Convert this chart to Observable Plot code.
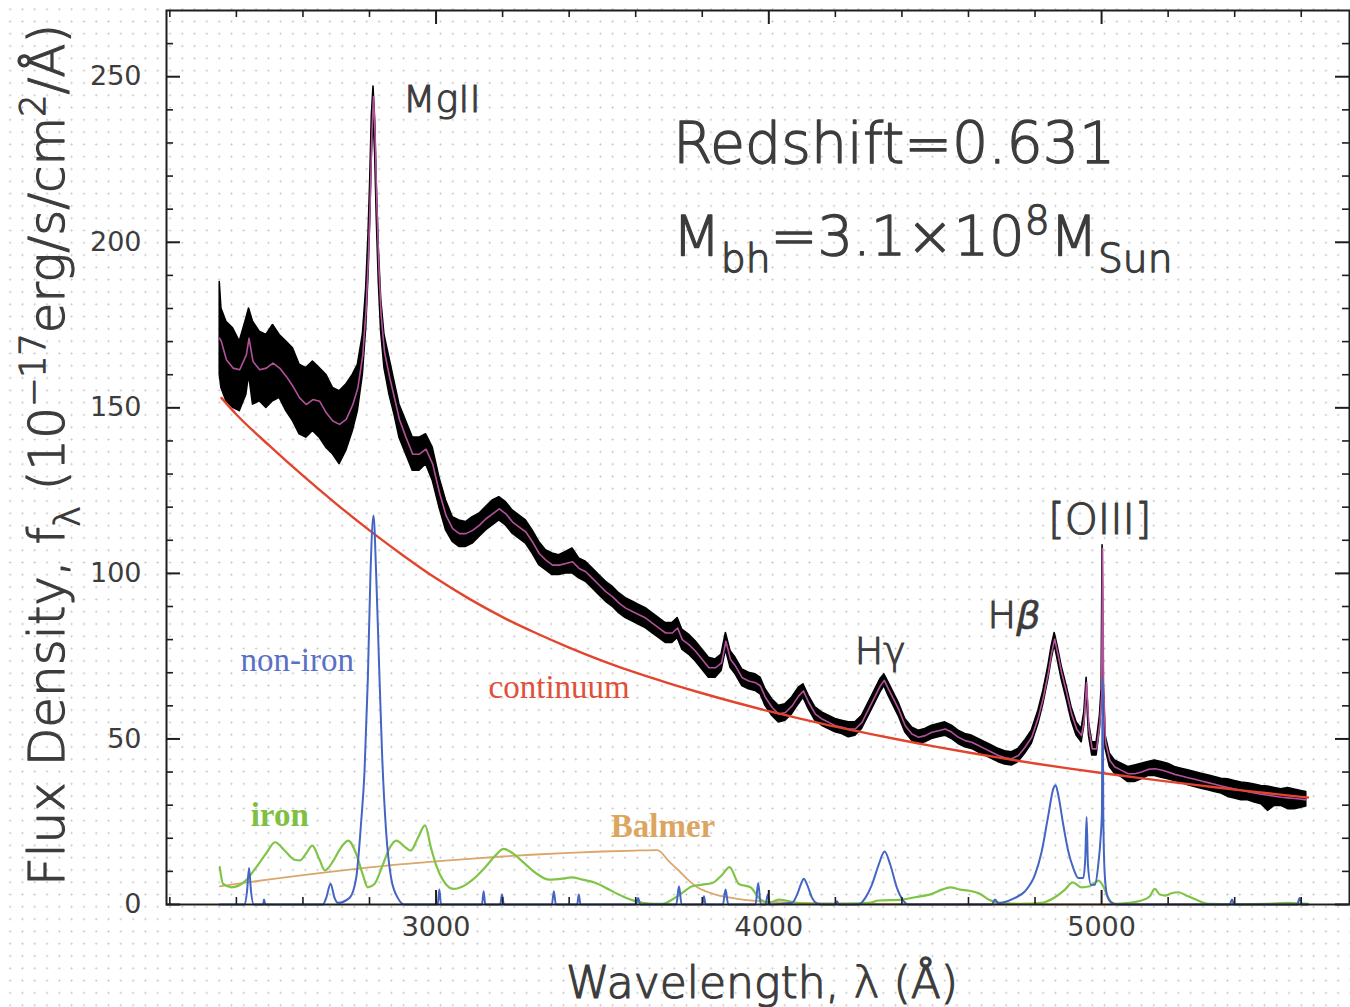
<!DOCTYPE html>
<html>
<head>
<meta charset="utf-8">
<script src="https://cdn.jsdelivr.net/npm/d3@7"></script>
<script src="https://cdn.jsdelivr.net/npm/@observablehq/plot@0.6"></script>
<style>
  html, body { margin: 0; padding: 0; }
  body {
    width: 1350px; height: 1007px; overflow: hidden;
    background-color: #fff;
    background-image: radial-gradient(circle, #c6c6c6 0 0.8px, transparent 1.2px);
    background-size: 12.3px 12.3px;
    background-position: 4px 3px;
  }
  #chart svg { display: block; }
</style>
</head>
<body>
<div id="chart"></div>
<script>
// ---- Quasar spectrum decomposition (rest-frame wavelength in Å, flux in 1e-17 erg/s/cm²/Å) ----

// Observed spectrum: wavelength grid, fitted total model, and the lower/upper edge of the noisy data
const wavelength = [
  2350, 2355, 2370, 2390, 2410, 2430, 2438, 2450, 2470, 2490,
  2510, 2530, 2550, 2570, 2590, 2610, 2630, 2650, 2670, 2690,
  2710, 2730, 2750, 2765, 2780, 2790, 2797, 2802, 2807, 2812,
  2817, 2822, 2828, 2835, 2845, 2860, 2875, 2890, 2910, 2930,
  2950, 2970, 2990, 3010, 3030, 3050, 3070, 3090, 3110, 3130,
  3150, 3170, 3190, 3210, 3230, 3250, 3270, 3290, 3310, 3330,
  3350, 3370, 3390, 3410, 3430, 3450, 3470, 3490, 3510, 3530,
  3550, 3570, 3590, 3610, 3630, 3650, 3670, 3690, 3710, 3726,
  3740, 3760, 3780, 3800, 3820, 3840, 3858, 3871, 3885, 3900,
  3920, 3940, 3960, 3975, 3990, 4010, 4030, 4050, 4070, 4090,
  4104, 4120, 4140, 4160, 4180, 4200, 4220, 4240, 4260, 4280,
  4300, 4320, 4335, 4347, 4360, 4375, 4390, 4410, 4430, 4450,
  4470, 4490, 4510, 4530, 4550, 4570, 4590, 4610, 4630, 4650,
  4670, 4690, 4710, 4730, 4750, 4770, 4790, 4810, 4825, 4840,
  4850, 4859, 4868, 4880, 4895, 4910, 4925, 4940, 4948, 4955,
  4962, 4972, 4985, 4995, 5000, 5003, 5006, 5012, 5025, 5040,
  5060, 5080, 5100, 5120, 5140, 5160, 5180, 5200, 5220, 5240,
  5260, 5280, 5300, 5320, 5340, 5360, 5380, 5400, 5420, 5440,
  5460, 5480, 5500, 5520, 5540, 5560, 5580, 5600, 5615
];

const modelFlux = [
  171, 170, 164.5, 162, 161.5, 166, 171, 164, 161.5, 162,
  163.5, 162, 159.5, 156.5, 153, 151, 152.5, 152, 148.5, 146,
  145, 146.5, 151, 156, 166, 180, 196, 212, 232, 244,
  232, 212, 193, 178, 167, 159.5, 153, 146.5, 141, 136,
  136, 137.5, 133, 124.5, 117.5, 113.5, 112, 112, 113, 114.5,
  116.5, 118, 119.5, 118, 115.5, 114, 112.5, 109.5, 106, 104,
  102.5, 102.5, 103, 103.5, 101.5, 100.5, 98.5, 96.5, 94.5, 93,
  91, 89.5, 88.5, 87.5, 86.5, 85, 83.5, 82, 82, 83.5,
  80, 78.5, 76.5, 74, 71.5, 71.5, 73, 79.5, 74, 72,
  68.5, 67.5, 67, 66, 62.5, 59.5, 57.5, 58, 60, 63,
  64.5, 61, 57.5, 56, 55, 54, 53.5, 53, 53, 55,
  59, 63, 66, 67.7, 65, 62, 59, 54, 51.5, 50.5,
  51, 52, 52.5, 53, 52, 50.5, 49.5, 49, 48, 47,
  46, 45, 44.3, 44, 45, 47.5, 50.5, 56.5, 62.5, 70,
  76, 80.2, 76, 70, 64, 57.5, 53, 51, 56, 67,
  53, 47, 47, 55, 63, 107.5, 66, 49, 43.5, 41.5,
  40.5, 39.5, 39.5, 40, 40.8, 41, 40.6, 40, 39.3, 38.8,
  38.3, 37.8, 37.3, 36.8, 36.3, 35.8, 35.3, 34.9, 34.5, 34.1,
  33.7, 33.3, 33, 32.7, 32.4, 32.2, 32, 31.8, 31.6
];

const fluxHigh = [
  188, 180, 176, 174, 170, 177, 180, 176, 173, 172,
  175, 172, 170, 168, 163, 162, 164, 162, 160, 156,
  155, 157, 160, 163, 172, 186, 202, 218, 238, 247,
  237, 217, 198, 183, 172, 165, 158, 151, 146, 141,
  141, 142, 138, 129, 122, 117, 116, 115.5, 117, 118,
  120, 122, 123, 121.5, 119, 117.5, 116, 113, 109.5, 107,
  106, 105.5, 106.5, 107.5, 104.5, 103.5, 101.5, 99.5, 97.5, 96,
  94, 92.5, 91.5, 90.5, 89.5, 88, 86.5, 85, 85, 86.5,
  83, 81.5, 79.5, 77, 74.5, 74, 75.5, 82, 76.5, 74.5,
  71, 70, 69.5, 68.5, 65, 62, 60, 60.5, 62.5, 65.5,
  66.5, 63, 59.5, 58, 57, 56, 55.5, 55, 55, 57,
  61, 65, 68, 69.5, 67, 64, 61, 56, 53.5, 52.5,
  53, 54, 54.5, 55, 54, 52.5, 51.5, 51, 50, 49,
  48, 47, 46.3, 46, 47, 49.5, 52.5, 58.5, 64.5, 72,
  78, 82, 78, 72, 66, 59.5, 55, 53, 58, 68.5,
  55, 49, 49, 57, 65, 108.5, 68, 51, 45.5, 43.5,
  42.5, 41.5, 42, 42.5, 43, 43.5, 43, 42.5, 41.5, 41,
  40.5, 40, 39.5, 39, 38.5, 38, 37.8, 37.3, 36.8, 36.6,
  36.2, 35.8, 35.6, 35.2, 34.8, 35.2, 34.7, 34.3, 34
];

const fluxLow = [
  160, 156, 152, 150, 149, 154, 160, 151, 152, 150,
  152, 153, 149, 146, 142, 141, 143, 141, 138, 136,
  133, 137, 143, 149, 160, 174, 190, 206, 226, 238,
  227, 207, 188, 173, 162, 154, 148, 141, 136, 131,
  131, 133, 128, 120, 113, 109.5, 108, 108, 109, 111,
  113, 114.5, 116, 114.5, 112, 110.5, 109, 106, 102.5, 101,
  99.5, 99.5, 100, 100, 98.5, 97.5, 95.5, 93.5, 91.5, 90,
  88, 86.5, 85.5, 84.5, 83.5, 82, 80.5, 79, 79, 80.5,
  77, 75.5, 73.5, 71, 68.5, 68.5, 70.5, 77, 71.5, 69.5,
  66, 65, 64.5, 63.5, 60, 57, 55, 55.5, 57.5, 60.5,
  62.5, 59, 55.5, 54, 53, 52, 51.5, 50.5, 51, 53,
  57, 61, 64, 66, 63, 60, 57, 52, 49.5, 48.5,
  49, 50, 50.5, 51, 50, 48.5, 47.5, 47, 46, 45,
  44, 43, 42.3, 42, 43, 45.5, 48.5, 54.5, 60.5, 68,
  74, 78.5, 74, 68, 62, 55.5, 51, 49, 54, 65.5,
  51, 45, 45, 53, 61, 106, 64, 47, 41.5, 39.5,
  38.5, 37, 37, 37.8, 38.8, 38.8, 38.3, 37.8, 37.3, 36.8,
  36, 35.5, 35, 34.5, 34, 33.5, 32.5, 32, 31.5, 31.5,
  30.8, 30.3, 28.3, 29.8, 29.8, 28.8, 28.8, 29.2, 29.6
];

// Power-law continuum
const continuumWave = [2355, 2400, 2500, 2600, 2700, 2800, 2900, 3000, 3100, 3200, 3300, 3400,
  3500, 3600, 3700, 3800, 3900, 4000, 4100, 4200, 4300, 4400, 4500, 4600, 4700, 4800,
  4900, 5000, 5100, 5200, 5300, 5400, 5500, 5600, 5620];
const continuumFlux = [153, 148, 138.5, 129.5, 121, 113, 105.5, 98.5, 92.3, 86.8, 82, 77.6,
  73.6, 70, 66.8, 63.8, 61, 58.4, 56, 53.7, 51.6, 49.6, 47.7, 45.9, 44.2, 42.6,
  41.1, 39.7, 38.4, 37.1, 35.9, 34.7, 33.6, 32.5, 32.3];

// Fe II / Fe III pseudo-continuum
const ironWave = [2350, 2360, 2385, 2428, 2460, 2490, 2516, 2545, 2575, 2591,
  2610, 2628, 2650, 2666, 2690, 2710, 2736, 2760, 2780, 2795,
  2815, 2840, 2860, 2881, 2905, 2924, 2945, 2967, 2985, 3000,
  3020, 3053, 3090, 3110, 3150, 3180, 3203, 3230, 3265, 3300,
  3340, 3380, 3407, 3440, 3480, 3520, 3560, 3600, 3640, 3680,
  3710, 3740, 3770, 3800, 3830, 3860, 3882, 3910, 3945, 3970,
  4000, 4030, 4100, 4200, 4300, 4330, 4400, 4440, 4490, 4520,
  4545, 4575, 4600, 4635, 4660, 4700, 4760, 4820, 4860, 4890,
  4913, 4940, 4965, 4991, 5005, 5020, 5040, 5080, 5120, 5145,
  5160, 5175, 5193, 5210, 5230, 5260, 5290, 5320, 5400, 5500,
  5560, 5600, 5620];
const ironFlux = [11.3, 6.2, 5.2, 7.2, 11.3, 15.5, 18.8, 16.3, 13.5, 13.3,
  15.5, 17.8, 13.5, 10.3, 13, 16.5, 19.3, 15.3, 9, 5.2,
  6.2, 12, 17, 19.3, 17.5, 16.3, 20, 23.9, 17, 12,
  7.5, 4.7, 6, 7.5, 11.5, 15, 16.8, 15.5, 12.5, 9.5,
  7.5, 7.8, 8.2, 7.5, 6.5, 4.5, 2.5, 1, 0.3, 0.2,
  1.5, 3.5, 5.5, 6, 6.5, 9, 11.3, 6.2, 5.2, 2,
  0.5, 1.5, 0.3, 0.2, 0.5, 1.2, 1.5, 2.2, 3.2, 4.5,
  5.2, 4.5, 4.2, 3.2, 1.5, 0.5, 0.2, 0.5, 2.2, 4.5,
  6.7, 5.2, 5.5, 7.2, 5.5, 2, 0.2, 0.5, 1.2, 2.5,
  4.7, 3, 2.7, 3.4, 3.7, 2.5, 1.2, 0.2, 0.1, 0.2,
  0.5, 0.3, 0.2];

// Balmer continuum + high-order Balmer lines
const balmerWave = [2350, 2400, 2500, 2600, 2700, 2800, 2900, 3000, 3100, 3200, 3300, 3400,
  3500, 3600, 3665, 3700, 3730, 3760, 3785, 3810, 3840, 3900, 3960, 4050, 4200, 4500, 5000, 5620];
const balmerFlux = [5.5, 6.2, 7.6, 8.9, 10.1, 11.2, 12.2, 13, 13.8, 14.5, 15.1, 15.6,
  16, 16.3, 16.4, 13, 10.2, 7.2, 5.2, 4, 3, 1.8, 1.1, 0.6, 0.3, 0.1, 0.05, 0];

// Non-iron emission lines (Mg II, [Ne V], [O II], [Ne III], Balmer lines, [O III], ...)
const nonIronWave = [2350, 2425, 2432, 2438, 2444, 2452, 2480, 2483, 2487, 2660,
  2670, 2683, 2695, 2705, 2740, 2760, 2775, 2785, 2795, 2803,
  2812, 2820, 2828, 2838, 2850, 2865, 2885, 2905, 3005, 3010,
  3015, 3138, 3143, 3148, 3193, 3198, 3204, 3348, 3354, 3360,
  3424, 3429, 3434, 3600, 3607, 3614, 3722, 3730, 3738, 3800,
  3805, 3810, 3862, 3870, 3878, 3960, 3968, 3976, 3990, 3997,
  4004, 4070, 4085, 4098, 4105, 4115, 4130, 4145, 4160, 4200,
  4205, 4210, 4270, 4290, 4310, 4330, 4348, 4365, 4385, 4405,
  4420, 4670, 4680, 4690, 4700, 4740, 4770, 4800, 4820, 4840,
  4855, 4862, 4870, 4885, 4900, 4915, 4930, 4945, 4951, 4955,
  4959, 4968, 4980, 4990, 4997, 5001, 5003, 5005, 5009, 5016,
  5030, 5050, 5385, 5392, 5398, 5588, 5595, 5602, 5620];
const nonIronFlux = [0, 0, 4, 11, 4, 0, 0, 1.5, 0, 0,
  2, 6.3, 2, 0.5, 2, 8, 25, 40, 68, 100,
  117.5, 100, 75, 45, 22, 8, 2, 0, 0, 4.5,
  0, 0, 4, 0, 0, 3, 0, 0, 4, 0,
  0, 3, 0, 0, 2, 0, 0, 5.5, 0, 0,
  2.5, 0, 0, 4.5, 0, 0, 6.5, 0, 0, 3,
  0, 0.5, 3, 6.5, 7.8, 6, 2, 0.3, 0, 0,
  1, 0, 0, 2, 6, 12, 16, 12, 5, 1,
  0, 0, 1.5, 0.3, 0.5, 2, 4, 9, 16, 27,
  35, 36, 33, 24, 16, 11, 8, 8, 14, 26.4,
  12, 6, 6, 12, 20, 28, 68, 28, 10, 3,
  0.5, 0, 0, 1.5, 0, 0, 2, 0, 0];

// Axis ticks
const xTickLabels = [3000, 4000, 5000];
const yTickLabels = [0, 50, 100, 150, 200, 250];
const xMinorTicks = d3.range(2200, 5745, 200).filter(v => v % 1000 !== 0);
const yMinorTicks = d3.range(10, 270, 10).filter(v => v % 50 !== 0);

// ---- assemble tables ----
[[modelFlux, "modelFlux"], [fluxHigh, "fluxHigh"], [fluxLow, "fluxLow"]].forEach(([a, n]) => {
  if (a.length !== wavelength.length) throw new Error(n + " length " + a.length + " vs " + wavelength.length);
});
if (continuumWave.length !== continuumFlux.length) throw new Error("continuum length");
if (ironWave.length !== ironFlux.length) throw new Error("iron length");
if (balmerWave.length !== balmerFlux.length) throw new Error("balmer length");
if (nonIronWave.length !== nonIronFlux.length) throw new Error("non-iron length");

const spectrum = wavelength.map((w, i) => ({wave: w, model: modelFlux[i], lo: fluxLow[i], hi: fluxHigh[i]}));
const pairs = (ws, fs) => ws.map((w, i) => ({wave: w, flux: fs[i]}));
const continuum = pairs(continuumWave, continuumFlux);
const iron = pairs(ironWave, ironFlux);
const balmer = pairs(balmerWave, balmerFlux);
const nonIron = pairs(nonIronWave, nonIronFlux);

// ---- layout ----
const W = 1350, H = 1007;
const mL = 166, mR = 1, mT = 10, mB = 103;
const innerW = W - mL - mR, innerH = H - mT - mB;
const ink = "#1e1e1e", textInk = "#3c3c3c";
const sans = "DejaVu Sans", serif = "Liberation Serif";
const lightWeight = 300;
// thin sans labels get a same-colour outline so the strokes sit between light and regular
const lightText = {fontWeight: lightWeight, fill: textInk, stroke: textInk, strokeWidth: 1.1, textAnchor: "start"};

const plot = Plot.plot({
  width: W, height: H,
  marginLeft: mL, marginRight: mR, marginTop: mT, marginBottom: mB,
  x: {domain: [2190, 5745]},
  y: {domain: [0, 270]},
  style: {background: "transparent", fontFamily: sans},
  marks: [
    // observed data (noisy band) and fitted model
    Plot.areaY(spectrum, {x: "wave", y1: "lo", y2: "hi", fill: "#000", stroke: "#000", strokeWidth: 1.6}),
    Plot.line(spectrum, {x: "wave", y: "model", stroke: "#b4519c", strokeWidth: 1.6}),
    // components
    Plot.line(continuum, {x: "wave", y: "flux", stroke: "#e2452e", strokeWidth: 2.4, curve: "monotone-x"}),
    Plot.line(balmer, {x: "wave", y: "flux", stroke: "#dba66c", strokeWidth: 1.8, curve: "monotone-x"}),
    Plot.line(iron, {x: "wave", y: "flux", stroke: "#80c447", strokeWidth: 2.2, curve: "monotone-x"}),
    Plot.line(nonIron, {x: "wave", y: "flux", stroke: "#4565c4", strokeWidth: 2, curve: "monotone-x"}),

    // frame and inward ticks on all four sides
    Plot.frame({stroke: ink, strokeWidth: 2}),
    Plot.ruleY(yTickLabels, {insetRight: innerW - 14, stroke: ink, strokeWidth: 2}),
    Plot.ruleY(yTickLabels, {insetLeft: innerW - 14, stroke: ink, strokeWidth: 2}),
    Plot.ruleY(yMinorTicks, {insetRight: innerW - 7, stroke: ink, strokeWidth: 1.6}),
    Plot.ruleY(yMinorTicks, {insetLeft: innerW - 7, stroke: ink, strokeWidth: 1.6}),
    Plot.ruleX(xTickLabels, {insetTop: innerH - 14, stroke: ink, strokeWidth: 2}),
    Plot.ruleX(xTickLabels, {insetBottom: innerH - 14, stroke: ink, strokeWidth: 2}),
    Plot.ruleX(xMinorTicks, {insetTop: innerH - 7, stroke: ink, strokeWidth: 1.6}),
    Plot.ruleX(xMinorTicks, {insetBottom: innerH - 7, stroke: ink, strokeWidth: 1.6}),

    // tick labels
    Plot.axisX(xTickLabels, {tickSize: 0, tickPadding: 12, fontSize: 27, fill: textInk, label: null, tickFormat: d => String(d)}),
    Plot.axisY(yTickLabels, {tickSize: 0, tickPadding: 25, fontSize: 27, fill: textInk, label: null, tickFormat: d => String(d)}),

    // line and component labels
    Plot.text(["MgII"], {x: 2900, y: 243, text: d => d, fontSize: 38, ...lightText}),
    Plot.text(["Redshift=0.631"], {x: 3712, y: 229.5, text: d => d, fontSize: 57, ...lightText, strokeWidth: 1.3}),
    Plot.text(["Hγ"], {x: 4258, y: 76.4, text: d => d, fontSize: 38, ...lightText}),
    Plot.text(["[OIII]"], {x: 4840, y: 116, text: d => d, fontSize: 42, ...lightText}),
    Plot.text(["non-iron"], {x: 2412, y: 73.7, text: d => d, textAnchor: "start", fontSize: 33, fontFamily: serif, fill: "#5a6fc6"}),
    Plot.text(["continuum"], {x: 3158, y: 65.5, text: d => d, textAnchor: "start", fontSize: 33, fontFamily: serif, fill: "#e0503a"}),
    Plot.text(["iron"], {x: 2443, y: 26.9, text: d => d, textAnchor: "start", fontSize: 33, fontFamily: serif, fontWeight: "bold", fill: "#7fc043"}),
    Plot.text(["Balmer"], {x: 3525, y: 23.7, text: d => d, textAnchor: "start", fontSize: 33, fontFamily: serif, fontWeight: "bold", fill: "#dca560"})
  ]
});

document.getElementById("chart").appendChild(plot);

// ---- labels that need sub/superscripts ----
const svg = d3.select(plot);
const sx = plot.scale("x"), sy = plot.scale("y");

function richText(parts, {x, y, size, fill = textInk, anchor = "start", transform = null, weight = lightWeight, outline = 1.1}) {
  const t = svg.append("text")
    .attr("x", x).attr("y", y)
    .attr("font-family", sans).attr("font-size", size).attr("font-weight", weight)
    .attr("fill", fill).attr("stroke", fill).attr("stroke-width", outline)
    .attr("stroke-linejoin", "round").attr("text-anchor", anchor);
  if (transform) t.attr("transform", transform);
  let shift = 0;
  for (const p of parts) {
    const target = p.sub ? size * 0.3 : p.sup ? -size * 0.38 : 0;
    const ts = t.append("tspan").text(p.text).attr("dy", target - shift);
    shift = target;
    if (p.sub || p.sup) ts.attr("font-size", size * 0.7);
    if (p.italic) ts.attr("font-style", "italic").attr("font-weight", 400).attr("stroke-width", 0.6);
  }
  return t;
}

// black-hole mass
richText([
  {text: "M"}, {text: "bh", sub: true}, {text: "=3.1×10"}, {text: "8", sup: true},
  {text: "M"}, {text: "Sun", sub: true}
], {x: sx.apply(3712), y: sy.apply(196), size: 56, outline: 1.3});

// H beta with italic beta
richText([{text: "H"}, {text: "β", italic: true}], {x: sx.apply(4659), y: sy.apply(83.4), size: 38});

// axis titles
richText([{text: "Wavelength, λ (Å)"}], {x: 762, y: 998, size: 44, anchor: "middle", outline: 1.2});
richText([
  {text: "Flux Density, f"}, {text: "λ", sub: true}, {text: " (10"}, {text: "−17", sup: true},
  {text: "erg/s/cm"}, {text: "2", sup: true}, {text: "/Å)"}
], {x: 0, y: 0, size: 50, anchor: "middle", transform: "translate(64,455) rotate(-90)", outline: 1.2});
</script>
</body>
</html>
